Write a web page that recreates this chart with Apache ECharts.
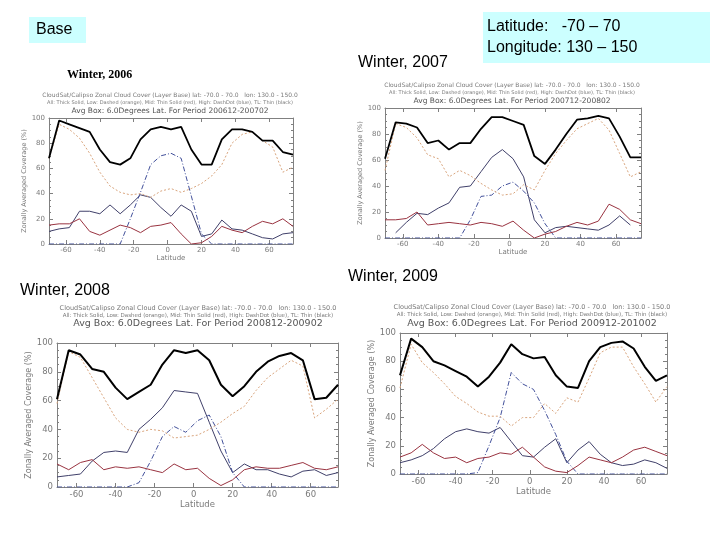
<!DOCTYPE html>
<html><head><meta charset="utf-8">
<script src="https://cdn.jsdelivr.net/npm/echarts@6/dist/echarts.min.js"></script>
<style>html,body{margin:0;padding:0;background:#fff}#c{width:720px;height:540px}</style>
</head><body><div id="c"></div>
<script>
// ---- data ----
const lat = [-70,-64,-58,-52,-46,-40,-34,-28,-22,-16,-10,-4,2,8,14,20,26,32,38,44,50,56,62,68,74];
const xTicks = [-60,-40,-20,0,20,40,60];
const yTicks = [0,20,40,60,80,100];
const periods = ['200612-200702','200712-200802','200812-200902','200912-201002'];
const winterLabels = ['Winter, 2006','Winter, 2007','Winter, 2008','Winter, 2009'];

const total2006 = [68,98,95,92,89,75,65,63,68,83,91,93,91,93,75,63,63,83,91,91,89,82,82,73,71];
const low2006   = [68,95,91,84,72,57,46,41,39,40,37,42,44,41,44,48,54,63,80,87,89,82,77,57,61];
const mid2006   = [15,16,16,20,10,7,11,15,13,9,14,15,17,8,0,1,6,14,11,9,14,18,16,20,14];
const high2006  = [0,0,0,0,0,0,0,0,20,41,63,70,72,68,38,8,0,0,0,0,0,0,0,0,0];
const thin2006  = [10,12,13,26,26,24,31,24,31,39,37,29,22,31,26,6,8,19,12,11,8,5,4,8,9];

const total2007 = [61,89,88,85,73,75,68,73,73,84,93,93,90,87,63,57,68,80,91,92,94,92,78,62,62];
const low2007   = [52,88,85,77,64,61,47,52,48,42,37,33,34,41,37,52,65,75,84,88,92,83,65,47,51];
const mid2007   = [14,14,15,20,10,11,12,11,10,12,11,9,13,6,0,3,5,9,12,10,13,26,22,14,11];
const high2007  = [0,0,0,0,0,0,0,0,14,32,33,40,43,36,27,11,0,0,0,0,0,0,0,0,0];
const thin2007  = [null,4,12,19,18,23,27,39,40,51,62,68,61,47,14,4,8,9,8,7,6,10,17,10,null];

const total2008 = [61,95,92,82,80,69,61,66,71,85,95,93,95,88,71,63,70,80,87,91,93,88,61,62,71];
const low2008   = [58,94,90,76,62,48,40,38,40,39,34,35,36,40,45,51,56,67,76,82,88,84,48,54,61];
const mid2008   = [16,12,17,19,12,14,13,14,12,10,16,12,13,6,1,5,12,14,13,13,15,17,13,12,14];
const high2008  = [0,0,0,0,0,0,0,3,18,35,42,38,46,50,35,10,0,0,0,0,0,0,0,0,0];
const thin2008  = [7,8,9,18,24,25,24,40,47,55,67,66,65,45,25,10,16,12,12,9,7,11,12,8,10];

const total2009 = [70,96,90,80,77,73,69,62,69,79,92,85,82,83,70,62,61,80,90,93,94,89,76,66,70];
const low2009   = [61,92,79,72,64,55,50,44,41,41,34,40,40,50,43,54,51,68,86,90,90,76,64,51,62];
const mid2009   = [12,15,21,15,11,12,8,11,12,15,14,19,12,5,2,1,6,12,10,8,12,17,19,16,13];
const high2009  = [0,0,0,0,0,0,0,1,20,40,72,64,60,45,28,9,0,0,0,0,0,0,0,0,0];
const thin2009  = [8,10,13,18,25,30,32,30,29,33,23,13,12,19,25,8,17,23,14,8,6,7,10,8,4];

const seriesSets = [
  [total2006, low2006, mid2006, high2006, thin2006],
  [total2007, low2007, mid2007, high2007, thin2007],
  [total2008, low2008, mid2008, high2008, thin2008],
  [total2009, low2009, mid2009, high2009, thin2009]
];

// ---- layout / style ----
const panels = [
  {grid:{left:49, top:118, width:244, height:126}, cx:170, ty:[95,103,111], fs:[6,5,7.5], lab:7, lw:1.8, nameGapY:17, nameGapX:10},
  {grid:{left:385, top:108, width:256, height:130}, cx:512, ty:[85,93,101], fs:[6,5,7.5], lab:7, lw:1.8, nameGapY:17, nameGapX:9},
  {grid:{left:57, top:343, width:281, height:144}, cx:198, ty:[308,316,324], fs:[6.5,5.5,9.5], lab:8.5, lw:2, nameGapY:19, nameGapX:11},
  {grid:{left:400, top:333, width:267, height:141}, cx:532, ty:[307,315,324], fs:[6.5,5.5,9.5], lab:8.5, lw:2, nameGapY:19, nameGapX:11}
];
const styles = [
  {name:'All', color:'#000000', type:'solid'},
  {name:'Low', color:'#d9a47c', type:[2,2]},
  {name:'Mid', color:'#993340', type:'solid'},
  {name:'High', color:'#42509a', type:[5,2,1,2]},
  {name:'TL', color:'#40406a', type:'solid'}
];
const axisCol = '#808080', txtCol = '#7a7a7a';
const font = 'DejaVu Sans';

const grids = [], xAxes = [], yAxes = [], series = [], graphics = [];
panels.forEach((p, i) => {
  grids.push(Object.assign({containLabel:false}, p.grid));
});
panels.forEach((p, i) => {
  xAxes.push({type:'value', gridIndex:i, min:-70, max:74, position:'bottom',
    name:'Latitude', nameLocation:'middle', nameGap:p.nameGapX,
    nameTextStyle:{fontSize:p.lab, color:txtCol, fontFamily:font},
    axisLine:{show:true, onZero:false, lineStyle:{color:axisCol, width:1}},
    axisTick:{show:true, inside:true, length:4, customValues:xTicks, lineStyle:{color:axisCol}},
    axisLabel:{show:true, customValues:xTicks, fontSize:p.lab, color:txtCol, fontFamily:font, margin:3},
    splitLine:{show:false}});
  yAxes.push({type:'value', gridIndex:i, min:0, max:100, interval:20, position:'left',
    name:'Zonally Averaged Coverage (%)', nameLocation:'middle', nameGap:p.nameGapY, nameRotate:90,
    nameTextStyle:{fontSize:p.lab-0.5, color:txtCol, fontFamily:font},
    axisLine:{show:true, onZero:false, lineStyle:{color:axisCol, width:1}},
    axisTick:{show:true, inside:true, length:4, lineStyle:{color:axisCol}},
    minorTick:{show:true, splitNumber:4, length:2, lineStyle:{color:axisCol}},
    axisLabel:{show:true, fontSize:p.lab, color:txtCol, fontFamily:font, margin:4},
    splitLine:{show:false}});
});
panels.forEach((p, i) => {
  xAxes.push({type:'value', gridIndex:i, min:-70, max:74, position:'top',
    axisLine:{show:true, onZero:false, lineStyle:{color:axisCol, width:1}},
    axisTick:{show:true, inside:true, length:4, customValues:xTicks, lineStyle:{color:axisCol}},
    axisLabel:{show:false}, splitLine:{show:false}});
  yAxes.push({type:'value', gridIndex:i, min:0, max:100, interval:20, position:'right',
    axisLine:{show:true, onZero:false, lineStyle:{color:axisCol, width:1}},
    axisTick:{show:true, inside:true, length:4, lineStyle:{color:axisCol}},
    minorTick:{show:true, splitNumber:4, length:2, lineStyle:{color:axisCol}},
    axisLabel:{show:false}, splitLine:{show:false}});
});
seriesSets.forEach((set, i) => {
  set.forEach((arr, s) => {
    const st = styles[s];
    series.push({type:'line', name:st.name, xAxisIndex:i, yAxisIndex:i,
      data: lat.map((x, j) => [x, arr[j]]),
      showSymbol:false, symbol:'none', connectNulls:false, silent:true, z: 10 - s,
      lineStyle:{color:st.color, width: s === 0 ? panels[i].lw : 1, type:st.type}});
  });
});

// chart headings (three lines over each plot)
panels.forEach((p, i) => {
  const lines = [
    'CloudSat/Calipso Zonal Cloud Cover (Layer Base) lat: -70.0 - 70.0   lon: 130.0 - 150.0',
    'All: Thick Solid, Low: Dashed (orange), Mid: Thin Solid (red), High: DashDot (blue), TL: Thin (black)',
    'Avg Box: 6.0Degrees Lat. For Period ' + periods[i]
  ];
  lines.forEach((t, k) => {
    graphics.push({type:'text', silent:true, style:{text:t, x:p.cx, y:p.ty[k],
      font: p.fs[k] + 'px "' + font + '"', fill: k === 2 ? '#555' : '#7a7a7a',
      textAlign:'center', textVerticalAlign:'middle', align:'center', verticalAlign:'middle'}});
  });
});

// slide labels
graphics.push({type:'rect', silent:true, shape:{x:29, y:17, width:57, height:26}, style:{fill:'#ccffff'}});
graphics.push({type:'text', silent:true, style:{text:'Base', x:36, y:30, font:'16px "Liberation Sans"', fill:'#000',
  textVerticalAlign:'middle', verticalAlign:'middle'}});
graphics.push({type:'rect', silent:true, shape:{x:483, y:12, width:227, height:51}, style:{fill:'#ccffff'}});
graphics.push({type:'text', silent:true, style:{text:'Latitude:   -70 \u2013 70', x:487, y:27, font:'16px "Liberation Sans"', fill:'#000',
  textVerticalAlign:'middle', verticalAlign:'middle'}});
graphics.push({type:'text', silent:true, style:{text:'Longitude: 130 \u2013 150', x:487, y:48, font:'16px "Liberation Sans"', fill:'#000',
  textVerticalAlign:'middle', verticalAlign:'middle'}});
graphics.push({type:'text', silent:true, style:{text:winterLabels[0], x:67, y:75, font:'bold 12px "Liberation Serif"', fill:'#000',
  textVerticalAlign:'middle', verticalAlign:'middle'}});
graphics.push({type:'text', silent:true, style:{text:winterLabels[1], x:358, y:63, font:'16px "Liberation Sans"', fill:'#000',
  textVerticalAlign:'middle', verticalAlign:'middle'}});
graphics.push({type:'text', silent:true, style:{text:winterLabels[2], x:20, y:291, font:'16px "Liberation Sans"', fill:'#000',
  textVerticalAlign:'middle', verticalAlign:'middle'}});
graphics.push({type:'text', silent:true, style:{text:winterLabels[3], x:348, y:277, font:'16px "Liberation Sans"', fill:'#000',
  textVerticalAlign:'middle', verticalAlign:'middle'}});

const chart = echarts.init(document.getElementById('c'), null, {renderer:'canvas', width:720, height:540});
chart.setOption({
  animation:false,
  backgroundColor:'#ffffff',
  grid:grids, xAxis:xAxes, yAxis:yAxes, series:series, graphic:graphics
});
</script>
</body></html>
